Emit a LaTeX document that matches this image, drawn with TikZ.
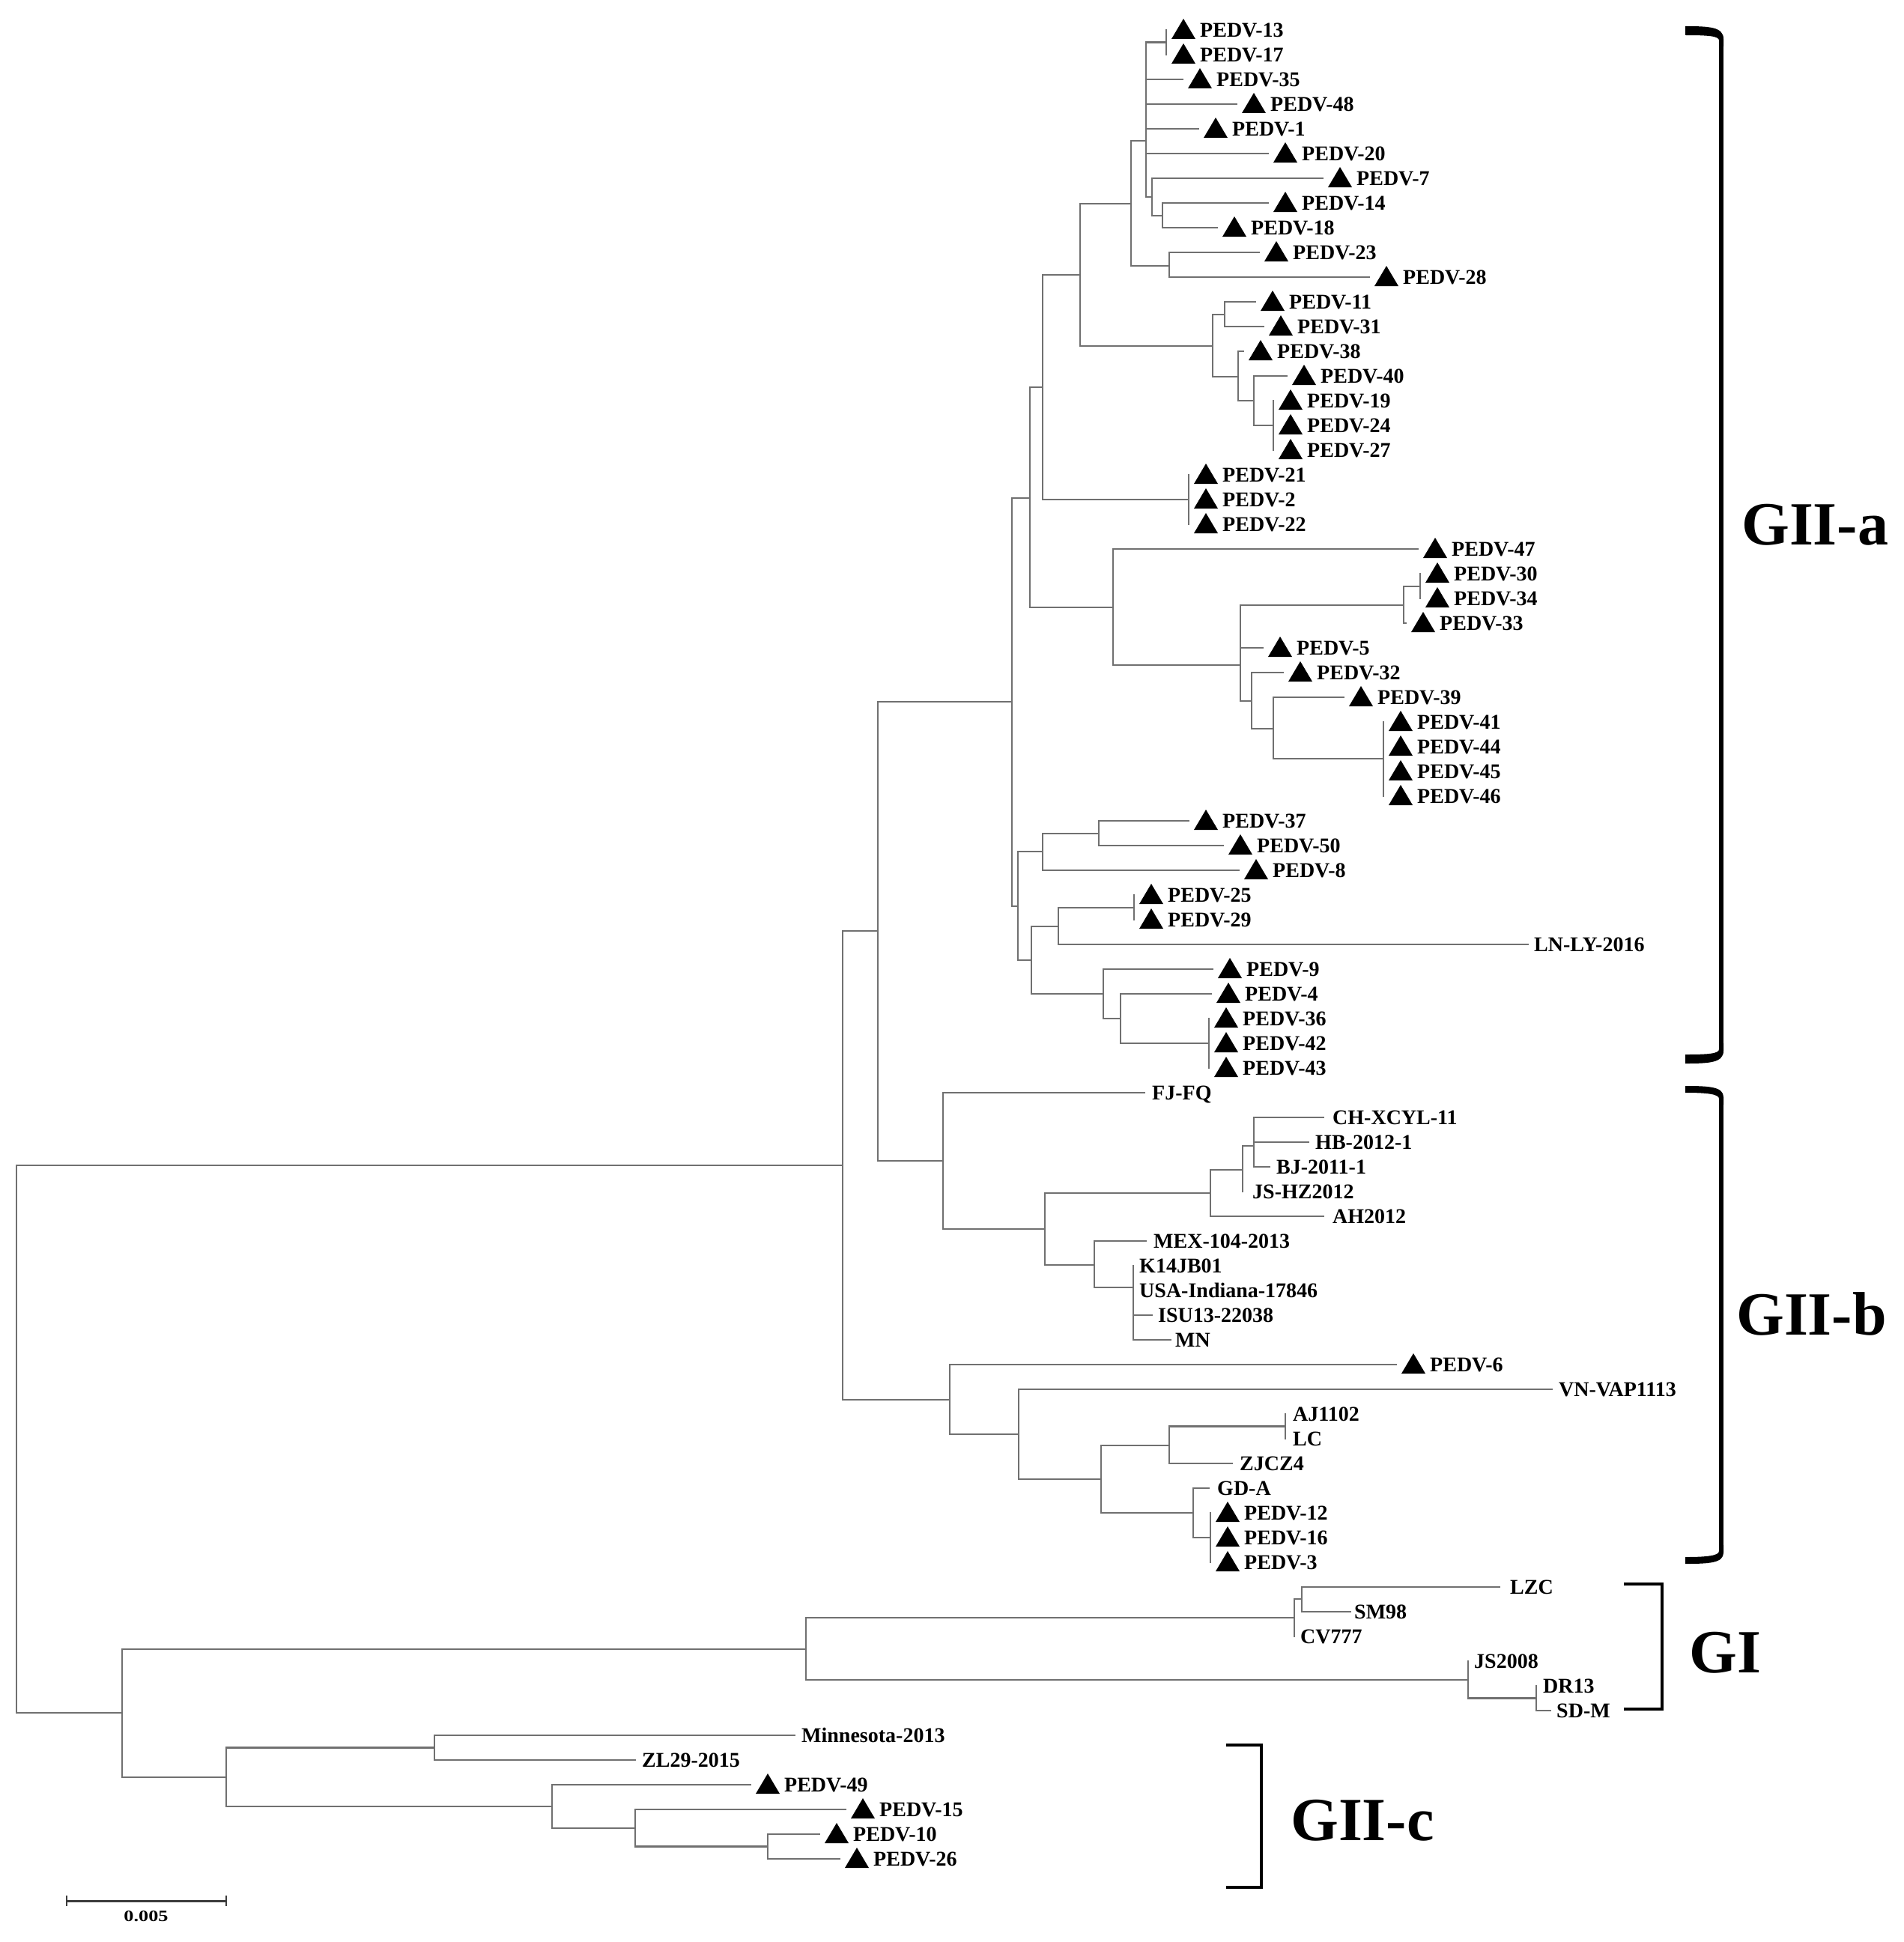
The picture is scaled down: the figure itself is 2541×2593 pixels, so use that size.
\documentclass[tikz,border=0pt]{standalone}
\usepackage{fontspec}
\setmainfont{Liberation Serif}
\definecolor{brgray}{RGB}{112,112,112}
\newcommand\tleaf[4]{%
  \coordinate (#1) at (#2,#3);
  \fill[black] ([shift={(7,12)}]#1) -- ([shift={(39,12)}]#1) -- ([shift={(23,-15)}]#1) -- cycle;
  \node[lab] (#1-t) at ([shift={(45,9.5)}]#1) {#4};}
\newcommand\pleaf[5]{%
  \coordinate (#1) at (#2,#3);
  \node[lab] (#1-t) at ([shift={(#5,9.5)}]#1) {#4};}
\begin{document}
\begin{tikzpicture}[x=1pt,y=-1pt,
  br/.style={draw=brgray, line width=2.6pt, line cap=rect},
  lab/.style={anchor=base west, inner sep=0pt, font=\bfseries\fontsize{28}{30}\selectfont},
  grp/.style={anchor=base west, inner sep=0pt, font=\bfseries\fontsize{82}{90}\selectfont},
  brk/.style={draw=black, line width=6pt},
  brkthin/.style={draw=black, line width=4pt}]
\fill[white] (0,0) rectangle (2541,2593);
\useasboundingbox (0,0) rectangle (2541,2593);
% ---------------- leaves
\tleaf{l1}{1557}{40}{PEDV-13}
\tleaf{l2}{1557}{73}{PEDV-17}
\tleaf{l3}{1579}{106}{PEDV-35}
\tleaf{l4}{1651}{139}{PEDV-48}
\tleaf{l5}{1600}{172}{PEDV-1}
\tleaf{l6}{1693}{205}{PEDV-20}
\tleaf{l7}{1766}{238}{PEDV-7}
\tleaf{l8}{1693}{271}{PEDV-14}
\tleaf{l9}{1625}{304}{PEDV-18}
\tleaf{l10}{1681}{337}{PEDV-23}
\tleaf{l11}{1828}{370}{PEDV-28}
\tleaf{l12}{1676}{403}{PEDV-11}
\tleaf{l13}{1687}{436}{PEDV-31}
\tleaf{l14}{1660}{469}{PEDV-38}
\tleaf{l15}{1718}{502}{PEDV-40}
\tleaf{l16}{1700}{535}{PEDV-19}
\tleaf{l17}{1700}{568}{PEDV-24}
\tleaf{l18}{1700}{601}{PEDV-27}
\tleaf{l19}{1587}{634}{PEDV-21}
\tleaf{l20}{1587}{667}{PEDV-2}
\tleaf{l21}{1587}{700}{PEDV-22}
\tleaf{l22}{1893}{733}{PEDV-47}
\tleaf{l23}{1896}{766}{PEDV-30}
\tleaf{l24}{1896}{799}{PEDV-34}
\tleaf{l25}{1877}{832}{PEDV-33}
\tleaf{l26}{1686}{865}{PEDV-5}
\tleaf{l27}{1713}{898}{PEDV-32}
\tleaf{l28}{1794}{931}{PEDV-39}
\tleaf{l29}{1847}{964}{PEDV-41}
\tleaf{l30}{1847}{997}{PEDV-44}
\tleaf{l31}{1847}{1030}{PEDV-45}
\tleaf{l32}{1847}{1063}{PEDV-46}
\tleaf{l33}{1587}{1096}{PEDV-37}
\tleaf{l34}{1633}{1129}{PEDV-50}
\tleaf{l35}{1654}{1162}{PEDV-8}
\tleaf{l36}{1514}{1195}{PEDV-25}
\tleaf{l37}{1514}{1228}{PEDV-29}
\pleaf{l38}{2040}{1261}{LN-LY-2016}{8}
\tleaf{l39}{1619}{1294}{PEDV-9}
\tleaf{l40}{1617}{1327}{PEDV-4}
\tleaf{l41}{1614}{1360}{PEDV-36}
\tleaf{l42}{1614}{1393}{PEDV-42}
\tleaf{l43}{1614}{1426}{PEDV-43}
\pleaf{l44}{1528}{1459}{FJ-FQ}{10}
\pleaf{l45}{1767}{1492}{CH-XCYL-11}{12}
\pleaf{l46}{1747}{1525}{HB-2012-1}{9}
\pleaf{l47}{1695}{1558}{BJ-2011-1}{9}
\pleaf{l48}{1659}{1591}{JS-HZ2012}{13}
\pleaf{l49}{1767}{1624}{AH2012}{12}
\pleaf{l50}{1530}{1657}{MEX-104-2013}{10}
\pleaf{l51}{1513}{1690}{K14JB01}{8}
\pleaf{l52}{1513}{1723}{USA-Indiana-17846}{8}
\pleaf{l53}{1538}{1756}{ISU13-22038}{8}
\pleaf{l54}{1563}{1789}{MN}{6}
\tleaf{l55}{1864}{1822}{PEDV-6}
\pleaf{l56}{2072}{1855}{VN-VAP1113}{9}
\pleaf{l57}{1716}{1888}{AJ1102}{10}
\pleaf{l58}{1716}{1921}{LC}{10}
\pleaf{l59}{1645}{1954}{ZJCZ4}{10}
\pleaf{l60}{1614}{1987}{GD-A}{11}
\tleaf{l61}{1616}{2020}{PEDV-12}
\tleaf{l62}{1616}{2053}{PEDV-16}
\tleaf{l63}{1616}{2086}{PEDV-3}
\pleaf{l64}{2002}{2119}{LZC}{14}
\pleaf{l65}{1803}{2152}{SM98}{5}
\pleaf{l66}{1728}{2185}{CV777}{8}
\pleaf{l67}{1960}{2218}{JS2008}{8}
\pleaf{l68}{2051}{2251}{DR13}{9}
\pleaf{l69}{2070}{2284}{SD-M}{8}
\pleaf{l70}{1061}{2317}{Minnesota-2013}{9}
\pleaf{l71}{848}{2350}{ZL29-2015}{9}
\tleaf{l72}{1002}{2383}{PEDV-49}
\tleaf{l73}{1129}{2416}{PEDV-15}
\tleaf{l74}{1094}{2449}{PEDV-10}
\tleaf{l75}{1121}{2482}{PEDV-26}
% ---------------- internal nodes
\coordinate (n1317) at (1557,56.5);
\coordinate (n1418) at (1552,288);
\coordinate (n7a) at (1538,263);
\coordinate (P1) at (1530,188);
\coordinate (n2328) at (1561,355);
\coordinate (Q) at (1510,272);
\coordinate (n1131) at (1635,420);
\coordinate (n1924) at (1700,568);
\coordinate (n40) at (1674,535);
\coordinate (n38) at (1653,503);
\coordinate (n11c) at (1619,462);
\coordinate (R) at (1442,367);
\coordinate (n21) at (1587,667);
\coordinate (S) at (1392,517);
\coordinate (n3034) at (1896,783);
\coordinate (n33) at (1874,808);
\coordinate (n4146) at (1847,1013);
\coordinate (n39) at (1700,973);
\coordinate (n32) at (1671,936);
\coordinate (N1) at (1656,888);
\coordinate (n47) at (1486,811);
\coordinate (T) at (1375,665);
\coordinate (n3750) at (1467,1113);
\coordinate (n8) at (1392,1137);
\coordinate (n2529) at (1514,1212);
\coordinate (nLN) at (1413,1237);
\coordinate (n3643) at (1614,1393);
\coordinate (n4) at (1496,1360);
\coordinate (n9) at (1473,1327);
\coordinate (n25c) at (1377,1282);
\coordinate (U2) at (1359,1210);
\coordinate (U) at (1351,937);
\coordinate (nCH) at (1674,1530);
\coordinate (nJS) at (1659,1562);
\coordinate (nAH) at (1616,1593);
\coordinate (nK14) at (1513,1719);
\coordinate (nMEX) at (1461,1689);
\coordinate (nb2) at (1395,1641);
\coordinate (nFJ) at (1259,1550);
\coordinate (V) at (1172,1243);
\coordinate (nAJ) at (1716,1904.5);
\coordinate (nZJ) at (1561,1930);
\coordinate (n1216) at (1616,2053);
\coordinate (nGD) at (1593,2020);
\coordinate (nb5) at (1470,1975);
\coordinate (nVN) at (1360,1915);
\coordinate (n6) at (1268,1869);
\coordinate (W) at (1125,1556);
\coordinate (nLZ) at (1738,2135);
\coordinate (nGIa) at (1728,2160);
\coordinate (nDR) at (2051,2267.5);
\coordinate (nGIb) at (1960,2243);
\coordinate (nGI) at (1076,2202);
\coordinate (nMin) at (580,2333.5);
\coordinate (n1026) at (1025,2465.5);
\coordinate (n15) at (848,2441);
\coordinate (n49) at (737,2412);
\coordinate (nc) at (302,2373);
\coordinate (nlow) at (163,2287);
\coordinate (root) at (22,1921);
% ---------------- branches
\foreach \p/\c in {n1317/l1,n1317/l2,P1/n1317,P1/l3,P1/l4,P1/l5,P1/l6,P1/n7a,
  n7a/l7,n7a/n1418,n1418/l8,n1418/l9,Q/P1,Q/n2328,n2328/l10,n2328/l11,
  R/Q,R/n11c,n11c/n1131,n11c/n38,n1131/l12,n1131/l13,n38/l14,n38/n40,
  n40/l15,n40/n1924,n1924/l16,n1924/l17,n1924/l18,S/R,S/n21,n21/l19,n21/l20,n21/l21,
  T/S,T/n47,n47/l22,n47/N1,N1/n33,N1/l26,N1/n32,n33/n3034,n33/l25,n3034/l23,n3034/l24,
  n32/l27,n32/n39,n39/l28,n39/n4146,n4146/l29,n4146/l30,n4146/l31,n4146/l32,
  U/T,U/U2,U2/n8,U2/n25c,n8/n3750,n8/l35,n3750/l33,n3750/l34,n25c/nLN,n25c/n9,
  nLN/n2529,nLN/l38,n2529/l36,n2529/l37,n9/l39,n9/n4,n4/l40,n4/n3643,
  n3643/l41,n3643/l42,n3643/l43,
  V/U,V/nFJ,nFJ/l44,nFJ/nb2,nb2/nAH,nb2/nMEX,nAH/nJS,nAH/l49,nJS/nCH,nJS/l48,
  nCH/l45,nCH/l46,nCH/l47,nMEX/l50,nMEX/nK14,nK14/l51,nK14/l52,nK14/l53,nK14/l54,
  W/V,W/n6,n6/l55,n6/nVN,nVN/l56,nVN/nb5,nb5/nZJ,nb5/nGD,nZJ/nAJ,nZJ/l59,
  nAJ/l57,nAJ/l58,nGD/l60,nGD/n1216,n1216/l61,n1216/l62,n1216/l63,
  root/W,root/nlow,nlow/nGI,nlow/nc,nGI/nGIa,nGI/nGIb,nGIa/nLZ,nGIa/l66,
  nLZ/l64,nLZ/l65,nGIb/l67,nGIb/nDR,nDR/l68,nDR/l69,nc/nMin,nc/n49,
  nMin/l70,nMin/l71,n49/l72,n49/n15,n15/l73,n15/n1026,n1026/l74,n1026/l75}
  \draw[br] (\p) |- (\c);
% ---------------- brackets (GII-a, GII-b: bold with curved tapering ends)
\coordinate (aT) at (2250,41); \coordinate (aB) at (2250,1414);
\fill (2250,35) .. controls (2282,35) and (2301,36) .. (2301,52) -- (2301,62) -- (2295,62) -- (2295,54)
      .. controls (2295,48) and (2280,47) .. (2250,47) -- cycle;
\fill (2250,1420) .. controls (2282,1420) and (2301,1419) .. (2301,1403) -- (2301,1393) -- (2295,1393) -- (2295,1401)
      .. controls (2295,1407) and (2280,1408) .. (2250,1408) -- cycle;
\draw[brk] (2298,58) -- (2298,1397);
\coordinate (bT) at (2250,1455); \coordinate (bB) at (2250,2083);
\fill (2250,1450) .. controls (2282,1450) and (2301,1451) .. (2301,1465) -- (2301,1475) -- (2295,1475) -- (2295,1467)
      .. controls (2295,1461) and (2280,1459) .. (2250,1459) -- cycle;
\fill (2250,2088) .. controls (2282,2088) and (2301,2087) .. (2301,2073) -- (2301,2063) -- (2295,2063) -- (2295,2071)
      .. controls (2295,2077) and (2280,2079) .. (2250,2079) -- cycle;
\draw[brk] (2298,1470) -- (2298,2068);
\coordinate (gT) at (2168,2115); \coordinate (gB) at (2168,2282);
\draw[brkthin] (gT) -- (2219,2115) -- (2219,2282) -- (gB);
\coordinate (cT) at (1637,2330); \coordinate (cB) at (1637,2520);
\draw[brkthin] (cT) -- (1684,2330) -- (1684,2520) -- (cB);
% ---------------- group labels
\node[grp] (GIIa) at (2325,727) {GII-a};
\node[grp] (GIIb) at (2318,1782) {GII-b};
\node[grp] (GI) at (2255,2233) {GI};
\node[grp] (GIIc) at (1723,2457) {GII-c};
% ---------------- scale bar
\coordinate (sb1) at (89,2538); \coordinate (sb2) at (302,2538);
\draw[line width=3pt, draw={rgb,255:red,60;green,60;blue,60}] (sb1) -- (sb2);
\draw[line width=2pt, draw={rgb,255:red,60;green,60;blue,60}] ([yshift=-7pt]sb1) -- ([yshift=7pt]sb1);
\draw[line width=2pt, draw={rgb,255:red,60;green,60;blue,60}] ([yshift=-7pt]sb2) -- ([yshift=7pt]sb2);
\node[anchor=base, inner sep=0pt, font=\bfseries\fontsize{21}{23}\selectfont] (sbt) at (195,2565) {\scalebox{1.25}[1]{0.005}};
\end{tikzpicture}
\end{document}
